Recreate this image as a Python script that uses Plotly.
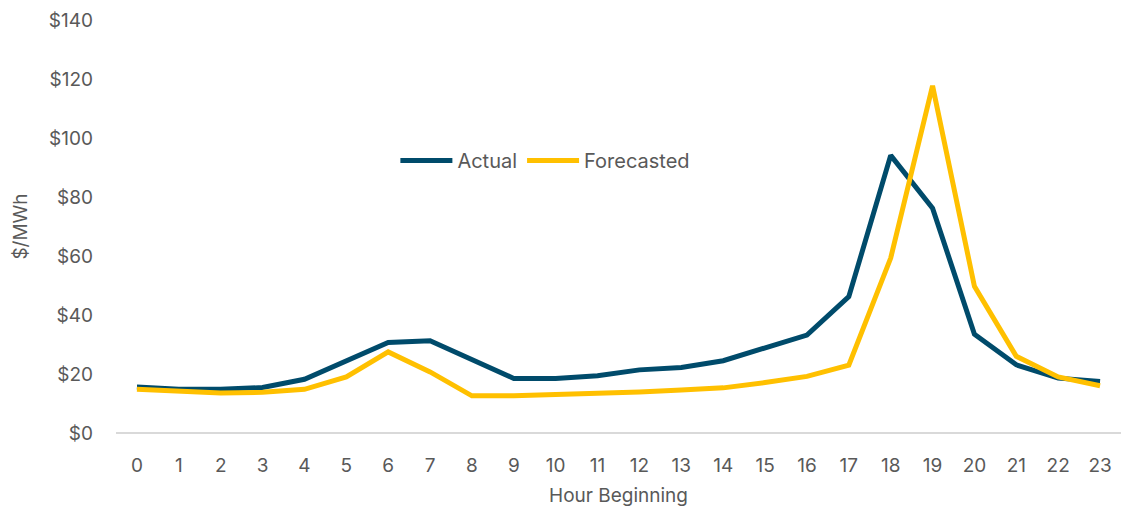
import plotly.graph_objects as go

hours = list(range(24))
actual = [15.6, 14.8, 14.8, 15.4, 18.2, 24.5, 30.7, 31.3, 25.0, 18.5, 18.5, 19.4,
          21.4, 22.2, 24.5, 29.0, 33.2, 46.2, 94.1, 76.2, 33.5, 23.1, 18.6, 17.5]
forecasted = [14.8, 14.1, 13.6, 13.8, 14.8, 19.0, 27.5, 20.7, 12.6, 12.6, 12.9, 13.3,
              13.9, 14.6, 15.3, 17.1, 19.2, 23.0, 59.3, 117.7, 49.7, 26.0, 19.0, 16.0]
y_ticks = [0, 20, 40, 60, 80, 100, 120, 140]
y_tick_labels = ["$" + str(v) for v in y_ticks]

FONT = "Inter"
GRAY = "#595959"

fig = go.Figure()
fig.add_trace(go.Scatter(x=hours, y=actual, mode="lines", name="Actual",
                         line=dict(color="#004B6B", width=5)))
fig.add_trace(go.Scatter(x=hours, y=forecasted, mode="lines", name="Forecasted",
                         line=dict(color="#FFC000", width=5)))

fig.update_layout(
    width=1121, height=508,
    margin=dict(l=116, r=0, t=20, b=75),
    paper_bgcolor="white", plot_bgcolor="white",
    font=dict(family=FONT, size=19, color=GRAY),
    legend=dict(orientation="h", x=0.278, y=0.66, xanchor="left", yanchor="middle",
                font=dict(size=20, color=GRAY), bgcolor="rgba(0,0,0,0)",
                itemwidth=52),
    xaxis=dict(range=[-0.5, 23.5], tickmode="array", tickvals=hours,
               ticktext=[str(h) for h in hours], showgrid=False, zeroline=False,
               showline=False, ticks="", ticklabelstandoff=19,
               tickfont=dict(size=19, color=GRAY),
               title=dict(text="Hour Beginning", font=dict(size=19, color=GRAY), standoff=12)),
    yaxis=dict(range=[0, 140], tickmode="array", tickvals=y_ticks, ticktext=y_tick_labels,
               showgrid=False, zeroline=True, zerolinecolor="#D9D9D9", zerolinewidth=2,
               showline=False, ticks="", ticklabelstandoff=22,
               tickfont=dict(size=19, color=GRAY),
               title=dict(text="$/MWh", font=dict(size=19, color=GRAY), standoff=16)),
)

fig.write_html("out.html")
